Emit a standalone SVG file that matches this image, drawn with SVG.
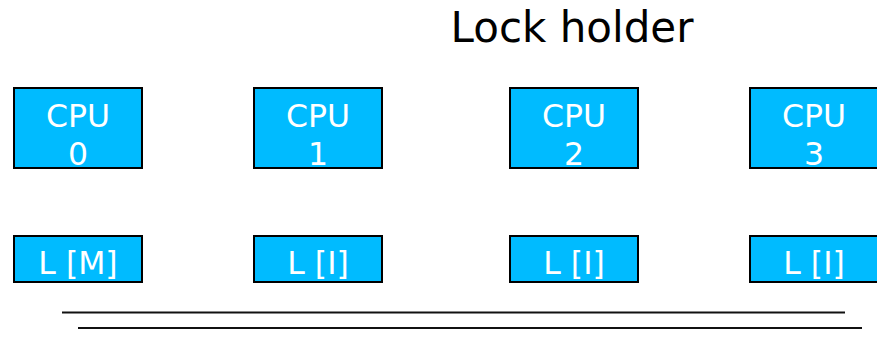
<svg xmlns="http://www.w3.org/2000/svg" width="877" height="342" viewBox="0 0 877 342">
  <style>
    .box { fill: #00BBFF; stroke: #000; stroke-width: 2; }
    .lbl { font-family: "DejaVu Sans", sans-serif; font-size: 31.5px; fill: #fff; text-anchor: middle; }
    .title { font-family: "DejaVu Sans", sans-serif; font-size: 42px; fill: #000; text-anchor: middle; }
    .bus { stroke: #111; stroke-width: 2; }
  </style>
  <rect width="877" height="342" fill="#fff"/>
  <text class="title" x="572" y="42">Lock holder</text>

  <!-- processors -->
  <g id="cpu0">
    <rect class="box" x="14" y="88" width="128" height="80"/>
    <text class="lbl" x="78" y="126.5">CPU</text>
    <text class="lbl" x="78" y="164.5">0</text>
  </g>
  <g id="cpu1">
    <rect class="box" x="254" y="88" width="128" height="80"/>
    <text class="lbl" x="318" y="126.5">CPU</text>
    <text class="lbl" x="318" y="164.5">1</text>
  </g>
  <g id="cpu2">
    <rect class="box" x="510" y="88" width="128" height="80"/>
    <text class="lbl" x="574" y="126.5">CPU</text>
    <text class="lbl" x="574" y="164.5">2</text>
  </g>
  <g id="cpu3">
    <rect class="box" x="750" y="88" width="128" height="80"/>
    <text class="lbl" x="814" y="126.5">CPU</text>
    <text class="lbl" x="814" y="164.5">3</text>
  </g>

  <!-- per-CPU cache line state -->
  <g id="cache0">
    <rect class="box" x="14" y="236" width="128" height="46"/>
    <text class="lbl" x="78" y="274">L [M]</text>
  </g>
  <g id="cache1">
    <rect class="box" x="254" y="236" width="128" height="46"/>
    <text class="lbl" x="318" y="274">L [I]</text>
  </g>
  <g id="cache2">
    <rect class="box" x="510" y="236" width="128" height="46"/>
    <text class="lbl" x="574" y="274">L [I]</text>
  </g>
  <g id="cache3">
    <rect class="box" x="750" y="236" width="128" height="46"/>
    <text class="lbl" x="814" y="274">L [I]</text>
  </g>

  <!-- shared bus -->
  <g id="connectors">
    <line class="bus" x1="62" y1="312.5" x2="845" y2="312.5"/>
    <line class="bus" x1="78" y1="328" x2="862" y2="328"/>
  </g>
</svg>
